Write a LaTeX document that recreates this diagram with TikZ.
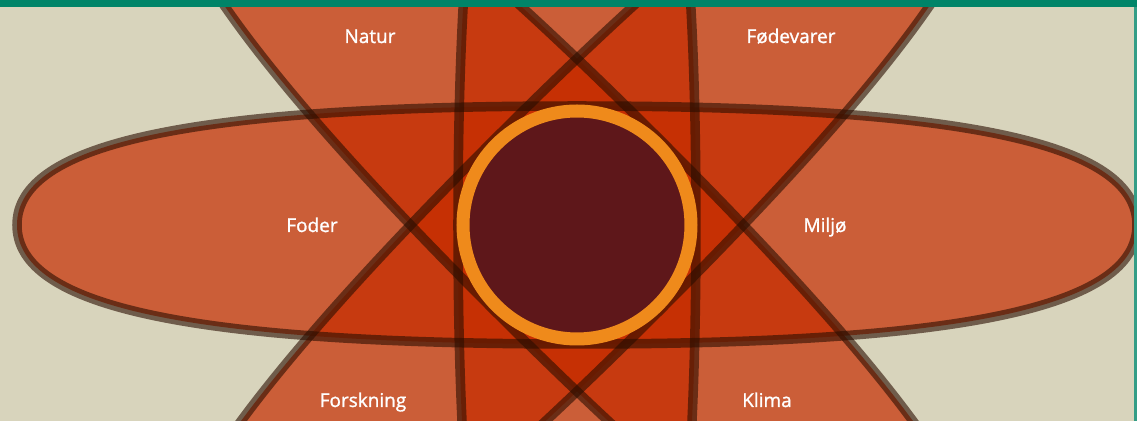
\documentclass[tikz,border=0pt]{standalone}
\usepackage{fontspec}
\setsansfont{Open Sans}
\newfontfamily\etiketskrift{Open Sans}[FakeBold=1.3]

\definecolor{baggrund}{RGB}{216,212,188}
\definecolor{topgroen}{RGB}{0,132,104}
\definecolor{bladfyld}{RGB}{198,44,0}
\definecolor{kantbrun}{RGB}{42,13,0}
\definecolor{kernefarve}{RGB}{94,23,26}
\definecolor{ringfarve}{RGB}{239,138,27}

\begin{document}
\begin{tikzpicture}[x=0.2mm, y=0.2mm,
    blad/.style={fill=bladfyld, fill opacity=0.7},
    bladkant/.style={draw=kantbrun, draw opacity=0.6, line width=1.9mm},
    etiket/.style={text=white, anchor=base, font=\etiketskrift\fontsize{10.8}{13}\selectfont}]

\useasboundingbox (-577,-196) rectangle (560,225);
\fill[baggrund] (-577,-196) rectangle (560,225);

\begin{scope}
    \clip (-577,-196) rectangle (560,225);
    % de fire blade (vandret, lodret og diagonalt)
    \foreach \v in {0,45,90,135}
        \fill[blad, rotate=\v] (560,0) .. controls (560,82) and (386,119) .. (0,119)
            .. controls (-386,119) and (-560,82) .. (-560,0)
            .. controls (-560,-82) and (-386,-119) .. (0,-119)
            .. controls (386,-119) and (560,-82) .. (560,0) -- cycle;
    % kanter oven paa alt fyld
    \foreach \v in {0,45,90,135}
        \draw[bladkant, rotate=\v] (560,0) .. controls (560,82) and (386,119) .. (0,119)
            .. controls (-386,119) and (-560,82) .. (-560,0)
            .. controls (-560,-82) and (-386,-119) .. (0,-119)
            .. controls (386,-119) and (560,-82) .. (560,0) -- cycle;
\end{scope}

% kernen i midten
\draw[ringfarve, line width=2.6mm, fill=kernefarve] (0,0) circle[radius=114];

% groen kant foroven og til hoejre
\fill[topgroen] (-577,218) rectangle (560,225);
\fill[topgroen!80] (557,-196) rectangle (560,218);

% tekster
\node[etiket] (natur) at (-207,182) {Natur};
\node[etiket] (foedevarer) at (214,182) {Fødevarer};
\node[etiket] (foder) at (-265,-7) {Foder};
\node[etiket] (miljoe) at (248,-7) {Miljø};
\node[etiket] (forskning) at (-214,-182) {Forskning};
\node[etiket] (klima) at (190,-182) {Klima};

\end{tikzpicture}
\end{document}
